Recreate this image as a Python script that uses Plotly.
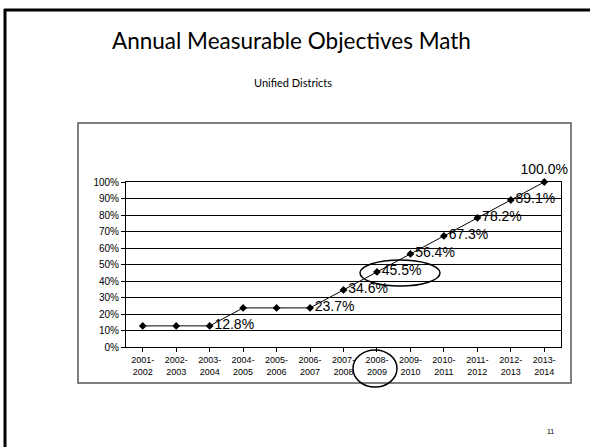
import plotly.graph_objects as go

# ---- data ----
years = ["2001-<br>2002", "2002-<br>2003", "2003-<br>2004", "2004-<br>2005", "2005-<br>2006",
         "2006-<br>2007", "2007-<br>2008", "2008-<br>2009", "2009-<br>2010", "2010-<br>2011",
         "2011-<br>2012", "2012-<br>2013", "2013-<br>2014"]
values = [12.8, 12.8, 12.8, 23.7, 23.7, 23.7, 34.6, 45.5, 56.4, 67.3, 78.2, 89.1, 100.0]
show_label = [False, False, True, False, False, True, True, True, True, True, True, True, True]
y_ticks = [0, 10, 20, 30, 40, 50, 60, 70, 80, 90, 100]
y_tick_text = [f"{v}%" for v in y_ticks]

title = "Annual Measurable Objectives Math"
subtitle = "Unified Districts"
page_no = "11"

# ---- layout geometry (pixels) ----
W, H = 590, 447
PL, PR, PT, PB = 126, 561, 182, 347


def px(x):
    return (x - PL) / (PR - PL)


def py(y):
    return (PB - y) / (PB - PT)


labels = [f"{v:.1f}%" if s else "" for v, s in zip(values, show_label)]
positions = ["top center" if v >= 100 else "middle right" for v in values]

fig = go.Figure()
fig.add_trace(go.Scatter(
    x=list(range(len(years))), y=values,
    mode="lines+markers+text",
    line=dict(color="black", width=1),
    marker=dict(symbol="diamond", size=6, color="black"),
    text=labels, textposition=positions,
    textfont=dict(family="Arial", size=14, color="black"),
    cliponaxis=False, showlegend=False,
))

shapes = [
    # slide border (top & left)
    dict(type="line", xref="paper", yref="paper", x0=px(4), x1=px(592), y0=py(10), y1=py(10),
         line=dict(color="black", width=3)),
    dict(type="line", xref="paper", yref="paper", x0=px(5), x1=px(5), y0=py(9), y1=py(450),
         line=dict(color="black", width=3)),
    # chart frame
    dict(type="rect", xref="paper", yref="paper", x0=px(78), x1=px(571), y0=py(123), y1=py(383),
         line=dict(color="#555555", width=1.5)),
    # hand-drawn ellipses
    dict(type="circle", xref="paper", yref="paper", x0=px(360), x1=px(440), y0=py(260), y1=py(286),
         line=dict(color="black", width=1.5)),
    dict(type="circle", xref="paper", yref="paper", x0=px(353), x1=px(397), y0=py(350), y1=py(387),
         line=dict(color="black", width=1.5)),
]

annotations = [
    dict(text=title, xref="paper", yref="paper", x=px(291), y=py(40), showarrow=False,
         xanchor="center", yanchor="middle", font=dict(family="Lato", size=22.5, color="black")),
    dict(text=subtitle, xref="paper", yref="paper", x=px(293), y=py(82),
         showarrow=False, xanchor="center", yanchor="middle",
         font=dict(family="Lato", size=11, color="black")),
    dict(text=page_no, xref="paper", yref="paper", x=px(550), y=py(431), showarrow=False,
         xanchor="center", yanchor="middle", font=dict(family="Arial", size=7, color="black")),
]

fig.update_layout(
    width=W, height=H,
    margin=dict(l=PL, r=W - PR, t=PT, b=H - PB, pad=0),
    paper_bgcolor="white", plot_bgcolor="white",
    shapes=shapes, annotations=annotations,
    xaxis=dict(
        tickmode="array", tickvals=list(range(len(years))), ticktext=years,
        range=[-0.5, len(years) - 0.5],
        showgrid=False, zeroline=False,
        showline=True, linecolor="black", linewidth=1, mirror=True,
        ticks="outside", ticklen=4, tickcolor="black",
        tickfont=dict(family="Arial", size=9, color="black"),
    ),
    yaxis=dict(
        range=[0, 100], tickvals=y_ticks, ticktext=y_tick_text,
        showgrid=True, gridcolor="black", gridwidth=1,
        zeroline=False,
        showline=True, linecolor="black", linewidth=1, mirror=True,
        ticks="outside", ticklen=4, tickcolor="black",
        tickfont=dict(family="Arial", size=10, color="black"),
    ),
)

fig.write_html("out.html", config={"displayModeBar": False},
               post_script="document.body.style.margin='0';document.body.style.overflow='hidden';")
